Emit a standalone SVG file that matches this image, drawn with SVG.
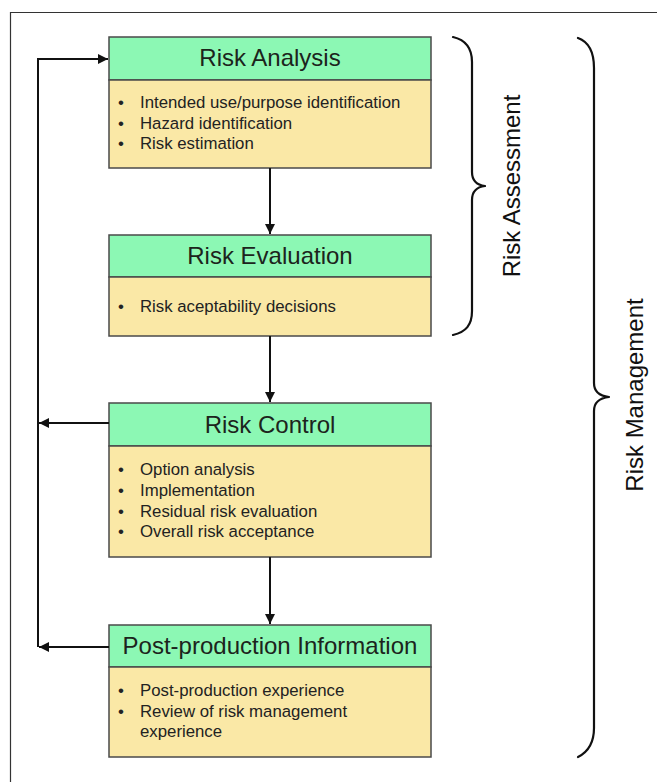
<svg xmlns="http://www.w3.org/2000/svg" width="657" height="782" viewBox="0 0 657 782">
  <style>
    .hdr { fill: #8cf8b4; stroke: #4a4a4a; stroke-width: 1.5; }
    .body { fill: #fae8a6; stroke: #4a4a4a; stroke-width: 1.5; }
    .title { font-family: "Liberation Sans", Arial, sans-serif; font-size: 24px; fill: #1c241c; text-anchor: middle; }
    .item { font-family: "Liberation Sans", Arial, sans-serif; font-size: 16.8px; fill: #222; }
    .side { font-family: "Liberation Sans", Arial, sans-serif; font-size: 24px; fill: #111; text-anchor: middle; }
    .wire { fill: none; stroke: #111; stroke-width: 2; }
    .brace { fill: none; stroke: #111; stroke-width: 2.2; stroke-linecap: round; stroke-linejoin: round; }
    .frame { fill: none; stroke: #333; stroke-width: 1.2; }
  </style>
  <defs>
    <marker id="arrow" viewBox="0 0 10 10" refX="10" refY="5" markerWidth="5" markerHeight="5" orient="auto" markerUnits="strokeWidth">
      <path d="M0,0 L10,5 L0,10 z" fill="#111"/>
    </marker>
  </defs>

  <rect width="657" height="782" fill="#ffffff"/>
  <!-- outer frame (top and left edges) -->
  <path class="frame" d="M10.5,782 V12.5 H657"/>

  <g id="risk-analysis">
    <rect class="hdr" x="109" y="37" width="322" height="43"/>
    <rect class="body" x="109" y="80" width="322" height="88"/>
    <text class="title" x="270" y="66">Risk Analysis</text>
    <text class="item" x="118" y="108">•</text>
    <text class="item" x="140" y="108">Intended use/purpose identification</text>
    <text class="item" x="118" y="128.5">•</text>
    <text class="item" x="140" y="128.5">Hazard identification</text>
    <text class="item" x="118" y="149">•</text>
    <text class="item" x="140" y="149">Risk estimation</text>
  </g>

  <g id="risk-evaluation">
    <rect class="hdr" x="109" y="235" width="322" height="42"/>
    <rect class="body" x="109" y="277" width="322" height="59"/>
    <text class="title" x="270" y="264">Risk Evaluation</text>
    <text class="item" x="118" y="312">•</text>
    <text class="item" x="140" y="312">Risk aceptability decisions</text>
  </g>

  <g id="risk-control">
    <rect class="hdr" x="109" y="403" width="322" height="43"/>
    <rect class="body" x="109" y="446" width="322" height="111"/>
    <text class="title" x="270" y="433">Risk Control</text>
    <text class="item" x="118" y="475">•</text>
    <text class="item" x="140" y="475">Option analysis</text>
    <text class="item" x="118" y="496">•</text>
    <text class="item" x="140" y="496">Implementation</text>
    <text class="item" x="118" y="517">•</text>
    <text class="item" x="140" y="517">Residual risk evaluation</text>
    <text class="item" x="118" y="537">•</text>
    <text class="item" x="140" y="537">Overall risk acceptance</text>
  </g>

  <g id="post-production">
    <rect class="hdr" x="109" y="625" width="322" height="42"/>
    <rect class="body" x="109" y="667" width="322" height="90"/>
    <text class="title" x="270" y="654">Post-production Information</text>
    <text class="item" x="118" y="696">•</text>
    <text class="item" x="140" y="696">Post-production experience</text>
    <text class="item" x="118" y="717">•</text>
    <text class="item" x="140" y="717">Review of risk management</text>
    <text class="item" x="140" y="737">experience</text>
  </g>

  <g id="connectors">
    <line class="wire" x1="270" y1="168" x2="270" y2="234" marker-end="url(#arrow)"/>
    <line class="wire" x1="270" y1="336" x2="270" y2="402" marker-end="url(#arrow)"/>
    <line class="wire" x1="270" y1="557" x2="270" y2="624" marker-end="url(#arrow)"/>
    <path class="wire" d="M38,647 V59 H108" marker-end="url(#arrow)"/>
    <line class="wire" x1="109" y1="423" x2="39" y2="423" marker-end="url(#arrow)"/>
    <line class="wire" x1="109" y1="647" x2="39" y2="647" marker-end="url(#arrow)"/>
  </g>

  <g id="risk-assessment-brace">
    <path class="brace" d="M453,37 C466,40 472,48 472,62 V172 C472,181 477,185 485,186 C477,187 472,191 472,200 V311 C472,325 466,332 453,335"/>
    <text class="side" transform="translate(520,186) rotate(-90)">Risk Assessment</text>
  </g>

  <g id="risk-management-brace">
    <path class="brace" d="M578,38 C589,42 594,52 594,68 V383 C594,392 600,396 609,397 C600,398 594,402 594,411 V728 C594,744 588,752 578,757"/>
    <text class="side" transform="translate(643,395) rotate(-90)">Risk Management</text>
  </g>
</svg>
